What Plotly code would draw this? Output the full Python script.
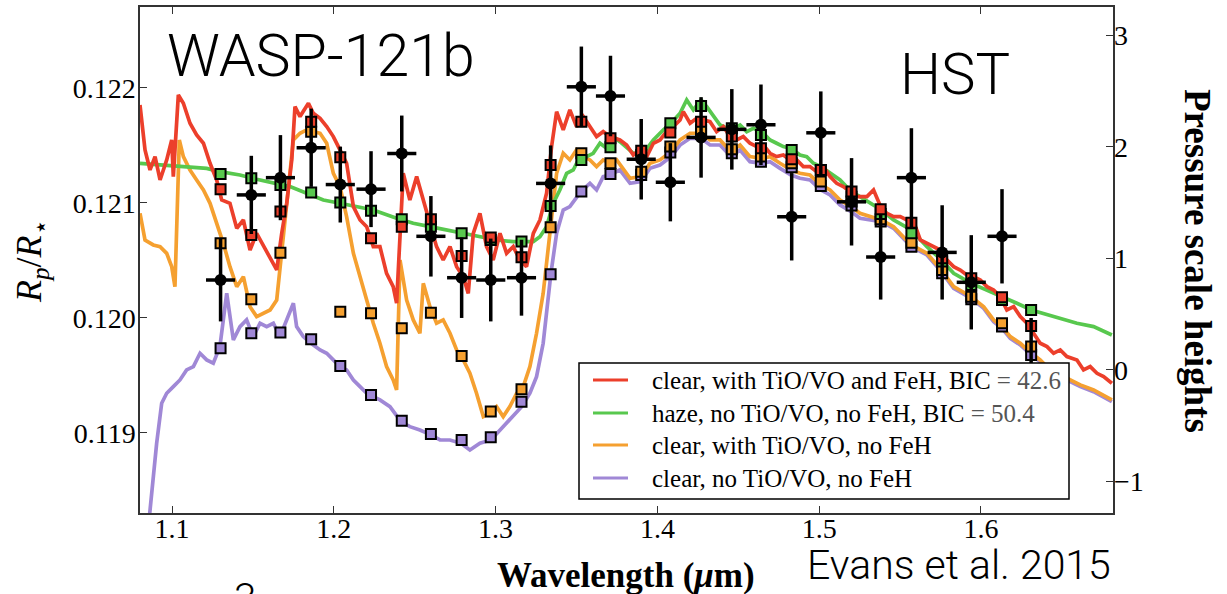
import plotly.graph_objects as go

# ---------------- data ----------------
# spectroscopic light-curve bins (wavelength, micron)
BIN_WL = [1.130, 1.149, 1.167, 1.186, 1.204, 1.223, 1.242, 1.260, 1.279, 1.297,
          1.316, 1.334, 1.353, 1.371, 1.390, 1.408, 1.427, 1.446, 1.464, 1.483,
          1.501, 1.520, 1.538, 1.557, 1.576, 1.594, 1.613, 1.631]
BIN_HALFWIDTH = [0.009] * 28

# measured Rp/R*
OBS_RPRS = [0.12033, 0.12107, 0.12122, 0.12148, 0.12116, 0.12112, 0.12143, 0.12071,
            0.12035, 0.12033, 0.12035, 0.12117, 0.12201, 0.12193, 0.12138, 0.12118,
            0.12157, 0.12164, 0.12168, 0.12088, 0.12161, 0.12101, 0.12053, 0.12122,
            0.12057, 0.12031, 0.12071, 0.11955]
OBS_ERR = [0.00036, 0.00034, 0.00037, 0.00034, 0.00033, 0.00033, 0.00033, 0.00035,
           0.00035, 0.00036, 0.00033, 0.00033, 0.00035, 0.00035, 0.00035, 0.00034,
           0.00035, 0.00035, 0.00035, 0.00038, 0.00036, 0.00038, 0.00037, 0.00043,
           0.00041, 0.00041, 0.00041, 0.00045]

# binned models
BIN_RED = [0.121119, 0.120722, 0.120925, 0.121707, 0.121397, 0.120693, 0.120794, 0.120858,
           0.120539, 0.120699, 0.120528, 0.121330, 0.121707, 0.121562, 0.121455, 0.121612,
           0.121707, 0.121577, 0.121475, 0.121380, 0.121287, 0.121099, 0.120945, 0.120829,
           0.120519, 0.120345, 0.120180, 0.119930]
BIN_GREEN = [0.121252, 0.121215, 0.121157, 0.121090, 0.121003, 0.120933, 0.120858, 0.120794,
             0.120736, 0.120678, 0.120664, 0.120974, 0.121374, 0.121484, 0.121417, 0.121693,
             0.121843, 0.121649, 0.121591, 0.121461, 0.121287, 0.121055, 0.120904, 0.120736,
             0.120490, 0.120287, 0.120156, 0.120069]
BIN_ORANGE = [0.120649, 0.120162, 0.120568, 0.121620, 0.120055, 0.120040, 0.119910, 0.120046,
              0.119670, 0.119186, 0.119380, 0.120788, 0.121432, 0.121345, 0.121272, 0.121490,
              0.121635, 0.121467, 0.121403, 0.121345, 0.121186, 0.121012, 0.120858, 0.120655,
              0.120417, 0.120185, 0.119954, 0.119751]
BIN_PURPLE = [0.119736, 0.119867, 0.119873, 0.119815, 0.119583, 0.119330, 0.119107, 0.118991,
              0.118939, 0.118962, 0.119272, 0.120380, 0.121099, 0.121252, 0.121243, 0.121438,
              0.121600, 0.121432, 0.121359, 0.121310, 0.121148, 0.120977, 0.120838, 0.120620,
              0.120388, 0.120162, 0.119925, 0.119678]

# model spectra
RED_WL = [1.0802, 1.0833, 1.0864, 1.0895, 1.0926, 1.0967, 1.0998, 1.1008, 1.1039, 1.1070,
          1.1111, 1.1152, 1.1194, 1.1235, 1.1276, 1.1307, 1.1358, 1.1400, 1.1441, 1.1482,
          1.1523, 1.1564, 1.1606, 1.1647, 1.1678, 1.1709, 1.1740, 1.1760, 1.1791, 1.1843,
          1.1873, 1.1915, 1.1956, 1.1997, 1.2038, 1.2079, 1.2121, 1.2162, 1.2203, 1.2244,
          1.2285, 1.2326, 1.2367, 1.2388, 1.2429, 1.2470, 1.2512, 1.2553, 1.2594, 1.2635,
          1.2676, 1.2718, 1.2759, 1.2800, 1.2831, 1.2862, 1.2903, 1.2944, 1.2985, 1.3027,
          1.3068, 1.3109, 1.3150, 1.3191, 1.3233, 1.3274, 1.3315, 1.3346, 1.3377, 1.3418,
          1.3459, 1.3500, 1.3542, 1.3583, 1.3624, 1.3665, 1.3707, 1.3768, 1.3810, 1.3851,
          1.3899, 1.3934, 1.3975, 1.4016, 1.4057, 1.4099, 1.4140, 1.4160, 1.4202, 1.4243,
          1.4284, 1.4325, 1.4366, 1.4408, 1.4449, 1.4490, 1.4531, 1.4572, 1.4614, 1.4655,
          1.4696, 1.4737, 1.4778, 1.4820, 1.4861, 1.4902, 1.4943, 1.4984, 1.5026, 1.5067,
          1.5108, 1.5149, 1.5190, 1.5232, 1.5295, 1.5336, 1.5384, 1.5419, 1.5460, 1.5501,
          1.5542, 1.5584, 1.5625, 1.5666, 1.5707, 1.5748, 1.5790, 1.5831, 1.5872, 1.5913,
          1.5954, 1.5996, 1.6037, 1.6078, 1.6119, 1.6160, 1.6202, 1.6243, 1.6284, 1.6325,
          1.6366, 1.6408, 1.6449, 1.6490, 1.6531, 1.6593, 1.6634, 1.6675, 1.6717, 1.6758,
          1.6809]
RED_RPRS = [0.121852, 0.121461, 0.121287, 0.121403, 0.121200, 0.121374, 0.121548, 0.121229, 0.121939, 0.121867,
            0.121693, 0.121591, 0.121519, 0.121345, 0.121200, 0.121026, 0.120997, 0.120780, 0.120852, 0.120591,
            0.120736, 0.120635, 0.120533, 0.120418, 0.120736, 0.120997, 0.121374, 0.121838, 0.121751, 0.121867,
            0.121780, 0.121736, 0.121664, 0.121577, 0.121461, 0.121345, 0.120968, 0.120852, 0.120794, 0.120620,
            0.120620, 0.120388, 0.120272, 0.120128, 0.121258, 0.121026, 0.121229, 0.121026, 0.120852, 0.120620,
            0.120504, 0.120620, 0.120446, 0.120359, 0.120214, 0.120736, 0.120910, 0.120620, 0.120504, 0.120736,
            0.120562, 0.120620, 0.120504, 0.120446, 0.120736, 0.120852, 0.121084, 0.121490, 0.121794, 0.121635,
            0.121809, 0.121664, 0.121751, 0.121664, 0.121577, 0.121620, 0.121577, 0.121548, 0.121504, 0.121417,
            0.121475, 0.121403, 0.121519, 0.121548, 0.121620, 0.121664, 0.121722, 0.121794, 0.121693, 0.121736,
            0.121722, 0.121707, 0.121620, 0.121664, 0.121577, 0.121548, 0.121577, 0.121519, 0.121490, 0.121504,
            0.121432, 0.121403, 0.121417, 0.121374, 0.121374, 0.121316, 0.121316, 0.121272, 0.121316, 0.121229,
            0.121171, 0.121142, 0.121099, 0.121055, 0.121055, 0.121113, 0.120954, 0.120910, 0.120881, 0.120881,
            0.120852, 0.120838, 0.120678, 0.120649, 0.120620, 0.120591, 0.120504, 0.120446, 0.120417, 0.120374,
            0.120359, 0.120330, 0.120272, 0.120243, 0.120185, 0.120069, 0.120098, 0.120012, 0.119954, 0.119867,
            0.119780, 0.119751, 0.119693, 0.119722, 0.119664, 0.119635, 0.119548, 0.119577, 0.119519, 0.119490,
            0.119432]

GREEN_WL = [1.0802, 1.1008, 1.1214, 1.1296, 1.1420, 1.1523, 1.1626, 1.1729, 1.1832, 1.1935,
            1.2038, 1.2141, 1.2244, 1.2388, 1.2491, 1.2594, 1.2697, 1.2800, 1.2903, 1.3006,
            1.3109, 1.3233, 1.3274, 1.3315, 1.3356, 1.3397, 1.3439, 1.3480, 1.3521, 1.3562,
            1.3603, 1.3645, 1.3686, 1.3727, 1.3768, 1.3851, 1.3899, 1.3975, 1.4037, 1.4084,
            1.4140, 1.4181, 1.4222, 1.4270, 1.4305, 1.4346, 1.4387, 1.4455, 1.4511, 1.4552,
            1.4593, 1.4645, 1.4696, 1.4737, 1.4778, 1.4826, 1.4881, 1.4923, 1.4964, 1.5011,
            1.5067, 1.5129, 1.5197, 1.5252, 1.5384, 1.5460, 1.5569, 1.5666, 1.5755, 1.5831,
            1.5940, 1.6037, 1.6130, 1.6222, 1.6311, 1.6387, 1.6490, 1.6593, 1.6696, 1.6809]
GREEN_RPRS = [0.121345, 0.121322, 0.121301, 0.121272, 0.121243, 0.121206, 0.121171, 0.121142, 0.121084, 0.121026,
              0.120997, 0.120968, 0.120939, 0.120867, 0.120823, 0.120794, 0.120765, 0.120736, 0.120707, 0.120678,
              0.120664, 0.120664, 0.120707, 0.120794, 0.120997, 0.121113, 0.121258, 0.121287, 0.121403, 0.121403,
              0.121432, 0.121519, 0.121475, 0.121577, 0.121533, 0.121432, 0.121403, 0.121548, 0.121635, 0.121693,
              0.121780, 0.121896, 0.121809, 0.121896, 0.121838, 0.121751, 0.121678, 0.121635, 0.121678, 0.121620,
              0.121649, 0.121620, 0.121548, 0.121519, 0.121490, 0.121475, 0.121417, 0.121403, 0.121345, 0.121316,
              0.121258, 0.121200, 0.121099, 0.121055, 0.120939, 0.120852, 0.120765, 0.120620, 0.120504, 0.120388,
              0.120301, 0.120243, 0.120185, 0.120128, 0.120069, 0.120040, 0.119997, 0.119954, 0.119925, 0.119852]

ORANGE_WL = [1.0802, 1.0833, 1.0884, 1.0926, 1.0967, 1.0998, 1.1018, 1.1045, 1.1070, 1.1111,
             1.1152, 1.1194, 1.1235, 1.1276, 1.1317, 1.1358, 1.1400, 1.1441, 1.1482, 1.1523,
             1.1564, 1.1606, 1.1647, 1.1678, 1.1709, 1.1750, 1.1791, 1.1832, 1.1873, 1.1915,
             1.1956, 1.1997, 1.2038, 1.2079, 1.2121, 1.2162, 1.2203, 1.2244, 1.2285, 1.2326,
             1.2367, 1.2388, 1.2409, 1.2450, 1.2491, 1.2532, 1.2553, 1.2594, 1.2635, 1.2676,
             1.2718, 1.2759, 1.2800, 1.2841, 1.2882, 1.2924, 1.2965, 1.3006, 1.3047, 1.3088,
             1.3130, 1.3171, 1.3212, 1.3253, 1.3294, 1.3336, 1.3377, 1.3418, 1.3459, 1.3500,
             1.3542, 1.3583, 1.3624, 1.3665, 1.3707, 1.3748, 1.3831, 1.3899, 1.3954, 1.4016,
             1.4084, 1.4140, 1.4202, 1.4270, 1.4325, 1.4387, 1.4455, 1.4511, 1.4572, 1.4645,
             1.4696, 1.4758, 1.4826, 1.4881, 1.4943, 1.5011, 1.5067, 1.5129, 1.5197, 1.5252,
             1.5384, 1.5460, 1.5569, 1.5666, 1.5755, 1.5831, 1.5940, 1.6017, 1.6078, 1.6130,
             1.6181, 1.6243, 1.6311, 1.6366, 1.6428, 1.6490, 1.6552, 1.6614, 1.6696, 1.6809]
ORANGE_RPRS = [0.120910, 0.120678, 0.120635, 0.120620, 0.120562, 0.120446, 0.120272, 0.121548, 0.121403, 0.121287,
               0.121200, 0.121113, 0.120997, 0.120823, 0.120649, 0.120446, 0.120272, 0.120359, 0.120098, 0.120012,
               0.120040, 0.120069, 0.120156, 0.120562, 0.121026, 0.121548, 0.121606, 0.121635, 0.121620, 0.121606,
               0.121519, 0.121258, 0.121142, 0.120881, 0.120562, 0.120359, 0.120156, 0.119954, 0.119780, 0.119577,
               0.119461, 0.119374, 0.120504, 0.120156, 0.119983, 0.119867, 0.120301, 0.120098, 0.119954, 0.119983,
               0.119867, 0.119722, 0.119635, 0.119519, 0.119345, 0.119142, 0.119171, 0.119229, 0.119142, 0.119229,
               0.119345, 0.119403, 0.119577, 0.119867, 0.120214, 0.120736, 0.121258, 0.121432, 0.121374, 0.121461,
               0.121403, 0.121374, 0.121316, 0.121374, 0.121345, 0.121374, 0.121215, 0.121229, 0.121345, 0.121374,
               0.121446, 0.121548, 0.121606, 0.121606, 0.121548, 0.121548, 0.121446, 0.121504, 0.121403, 0.121388,
               0.121403, 0.121345, 0.121287, 0.121258, 0.121243, 0.121157, 0.121113, 0.121026, 0.120968, 0.120910,
               0.120852, 0.120794, 0.120635, 0.120562, 0.120417, 0.120272, 0.120185, 0.120098, 0.119983, 0.119925,
               0.119838, 0.119780, 0.119693, 0.119635, 0.119548, 0.119519, 0.119461, 0.119418, 0.119374, 0.119287]

PURPLE_WL = [1.0855, 1.0884, 1.0905, 1.0936, 1.0967, 1.1008, 1.1049, 1.1090, 1.1132, 1.1173,
             1.1214, 1.1255, 1.1296, 1.1338, 1.1379, 1.1420, 1.1461, 1.1502, 1.1544, 1.1585,
             1.1626, 1.1667, 1.1709, 1.1750, 1.1770, 1.1811, 1.1859, 1.1915, 1.1956, 1.1997,
             1.2038, 1.2079, 1.2121, 1.2162, 1.2203, 1.2244, 1.2285, 1.2347, 1.2415, 1.2470,
             1.2532, 1.2600, 1.2656, 1.2718, 1.2786, 1.2841, 1.2903, 1.2971, 1.3027, 1.3088,
             1.3161, 1.3212, 1.3253, 1.3294, 1.3325, 1.3342, 1.3377, 1.3418, 1.3459, 1.3500,
             1.3527, 1.3583, 1.3624, 1.3665, 1.3707, 1.3768, 1.3831, 1.3899, 1.3954, 1.4016,
             1.4084, 1.4140, 1.4202, 1.4270, 1.4325, 1.4387, 1.4455, 1.4511, 1.4572, 1.4645,
             1.4696, 1.4758, 1.4826, 1.4881, 1.4943, 1.5011, 1.5067, 1.5129, 1.5197, 1.5252,
             1.5384, 1.5460, 1.5569, 1.5666, 1.5755, 1.5831, 1.5940, 1.6017, 1.6078, 1.6130,
             1.6181, 1.6243, 1.6311, 1.6366, 1.6428, 1.6490, 1.6552, 1.6614, 1.6696, 1.6809]
PURPLE_RPRS = [0.118200, 0.118620, 0.118910, 0.119258, 0.119345, 0.119403, 0.119461, 0.119548, 0.119577, 0.119693,
               0.119635, 0.119606, 0.119751, 0.120214, 0.119809, 0.119925, 0.119983, 0.119838, 0.119954, 0.119925,
               0.119954, 0.119838, 0.119983, 0.120128, 0.119925, 0.119838, 0.119780, 0.119722, 0.119693, 0.119635,
               0.119577, 0.119548, 0.119461, 0.119403, 0.119345, 0.119316, 0.119287, 0.119229, 0.119099, 0.119055,
               0.119026, 0.118983, 0.118939, 0.118939, 0.118910, 0.118852, 0.118910, 0.118939, 0.119026, 0.119113,
               0.119229, 0.119345, 0.119490, 0.119780, 0.120214, 0.120388, 0.120736, 0.120939, 0.120968, 0.121055,
               0.121099, 0.121171, 0.121113, 0.121229, 0.121243, 0.121287, 0.121171, 0.121186, 0.121301, 0.121330,
               0.121403, 0.121504, 0.121562, 0.121562, 0.121504, 0.121504, 0.121403, 0.121461, 0.121359, 0.121345,
               0.121359, 0.121301, 0.121243, 0.121215, 0.121200, 0.121113, 0.121070, 0.120983, 0.120925, 0.120867,
               0.120838, 0.120780, 0.120620, 0.120548, 0.120403, 0.120258, 0.120171, 0.120084, 0.119968, 0.119910,
               0.119823, 0.119765, 0.119678, 0.119620, 0.119533, 0.119504, 0.119446, 0.119403, 0.119359, 0.119273]

LABELS = ["clear, with TiO/VO and FeH, BIC <span style='color:#555'>= 42.6</span>",
          "haze, no TiO/VO, no FeH, BIC <span style='color:#555'>= 50.4</span>",
          "clear, with TiO/VO, no FeH",
          "clear, no TiO/VO, no FeH"]

X_TICKS = [1.1, 1.2, 1.3, 1.4, 1.5, 1.6]
Y_TICKS = [0.119, 0.120, 0.121, 0.122]
H_TICKS = [-1, 0, 1, 2, 3]

# ---------------- figure ----------------
RED, GREEN, ORANGE, PURPLE = "#EC3F2B", "#58C84E", "#F5A030", "#A088D6"
SERIF = "Liberation Serif, Times New Roman, serif"
SANS = "Roboto, Lato, Helvetica, Arial, sans-serif"

fig = go.Figure()

models = [  # drawing order bottom -> top
    (PURPLE_WL, PURPLE_RPRS, BIN_PURPLE, PURPLE, LABELS[3]),
    (ORANGE_WL, ORANGE_RPRS, BIN_ORANGE, ORANGE, LABELS[2]),
    (GREEN_WL, GREEN_RPRS, BIN_GREEN, GREEN, LABELS[1]),
    (RED_WL, RED_RPRS, BIN_RED, RED, LABELS[0]),
]
for wl, rp, _, col, lab in models:
    fig.add_trace(go.Scatter(x=wl, y=rp, mode="lines", line=dict(color=col, width=3.7),
                             name=lab, showlegend=False, hoverinfo="skip"))
for wl, rp, binned, col, lab in models:
    fig.add_trace(go.Scatter(x=BIN_WL, y=binned, mode="markers", showlegend=False,
                             marker=dict(symbol="square", size=10, color=col,
                                         line=dict(color="black", width=2)),
                             hoverinfo="skip"))

fig.add_trace(go.Scatter(
    x=BIN_WL, y=OBS_RPRS, mode="markers", showlegend=False,
    marker=dict(symbol="circle", size=12, color="black"),
    error_y=dict(type="data", array=OBS_ERR, color="black", thickness=3.5, width=0),
    error_x=dict(type="data", array=BIN_HALFWIDTH, color="black", thickness=3.5, width=0),
))
# secondary axis (pressure scale heights)
fig.add_trace(go.Scatter(x=[None], y=[None], yaxis="y2", showlegend=False, hoverinfo="skip"))

axis_font = dict(family=SERIF, size=28, color="black")
fig.update_layout(
    width=1227, height=594, autosize=False,
    margin=dict(l=140, r=114, t=7, b=81),
    paper_bgcolor="white", plot_bgcolor="white",
    showlegend=False,
    xaxis=dict(range=[1.0802, 1.6816], tickvals=X_TICKS, tickformat=".1f",
               ticks="inside", ticklen=7, tickwidth=1.2, tickcolor="#333",
               showline=True, linecolor="#333", linewidth=1.5, mirror="ticks",
               showgrid=False, zeroline=False, tickfont=axis_font, automargin=False,
               ticklabelstandoff=-10),
    yaxis=dict(range=[0.118304, 0.122704], tickvals=Y_TICKS, tickformat=".3f",
               ticks="inside", ticklen=7, tickwidth=1.2, tickcolor="#333",
               showline=True, linecolor="#333", linewidth=1.5, mirror=True,
               showgrid=False, zeroline=False, tickfont=axis_font, automargin=False,
               ticklabelstandoff=-3),
    yaxis2=dict(range=[-1.282, 3.254], tickvals=H_TICKS, overlaying="y", side="right",
                ticks="inside", ticklen=7, tickwidth=1.2, tickcolor="#333",
                showline=False, showgrid=False, zeroline=False, tickfont=axis_font,
                automargin=False),
)

# legend box (drawn above the traces, like the original opaque legend)
def px_x(X):
    return (X - 140) / 973.0


def px_y(Y):
    return (513 - Y) / 506.0


shapes = [dict(type="rect", xref="paper", yref="paper", layer="above",
               x0=px_x(579), x1=px_x(1069), y0=px_y(499), y1=px_y(363),
               fillcolor="white", line=dict(color="black", width=1.5))]
legend_rows = [(RED, LABELS[0], 380), (GREEN, LABELS[1], 413),
               (ORANGE, LABELS[2], 445), (PURPLE, LABELS[3], 478)]
ann = []
for col, lab, Y in legend_rows:
    shapes.append(dict(type="line", xref="paper", yref="paper", layer="above",
                       x0=px_x(593), x1=px_x(628), y0=px_y(Y), y1=px_y(Y),
                       line=dict(color=col, width=3)))
    ann.append(dict(text=lab, x=px_x(650), y=px_y(Y), xanchor="left", yanchor="middle",
                    font=dict(family=SERIF, size=25, color="black")))

ann += [
    dict(text="WASP-121b", x=0.0257, y=0.905, xanchor="left", yanchor="middle",
         font=dict(family=SANS, size=59, color="black", weight=300)),
    dict(text="HST", x=0.8376, y=0.868, xanchor="center", yanchor="middle",
         font=dict(family=SANS, size=58, color="black", weight=300)),
    dict(text="Evans et al. 2015", x=0.8417, y=-0.102, xanchor="center", yanchor="middle",
         font=dict(family=SANS, size=41, color="black", weight=300)),
    dict(text="3", x=0.108, y=-0.118, xanchor="center", yanchor="top",
         font=dict(family=SANS, size=40, color="black", weight=300)),
    dict(text="<b>Wavelength (<i>μ</i>m)</b>", x=0.4995, y=-0.1245, xanchor="center",
         yanchor="middle", font=dict(family=SERIF, size=35, color="black")),
    dict(text="<b>Pressure scale heights</b>", x=1.0874, y=0.498, textangle=90,
         xanchor="center", yanchor="middle", font=dict(family=SERIF, size=37, color="black")),
    dict(text="<i>R</i><sub><i>p</i></sub>/<i>R</i><sub>⋆</sub>", x=-0.112, y=0.498,
         textangle=-90, xanchor="center", yanchor="middle",
         font=dict(family=SERIF, size=36, color="black")),
]
for a in ann:
    a.update(xref="paper", yref="paper", showarrow=False)
fig.update_layout(annotations=ann, shapes=shapes)

fig.write_html("out.html")
